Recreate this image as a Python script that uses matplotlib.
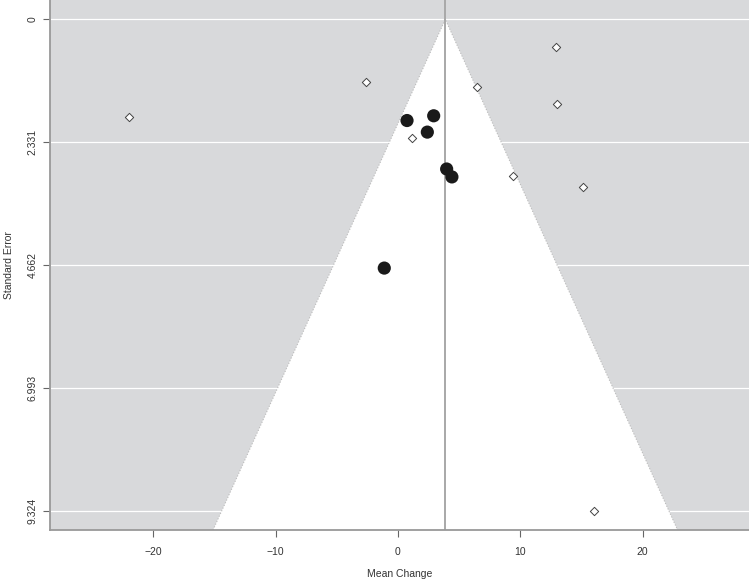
import numpy as np
import matplotlib
matplotlib.use("Agg")
import matplotlib.pyplot as plt

# observed studies (filled circles)
obs_change = [0.74, 2.92, 2.40, 3.98, 4.41, -1.12]
obs_se = [1.92, 1.83, 2.14, 2.84, 2.99, 4.72]

# other studies (open diamonds)
other_change = [-21.97, -2.64, 1.17, 6.49, 12.89, 13.00, 9.43, 15.15, 16.03]
other_se = [1.86, 1.18, 2.25, 1.29, 0.52, 1.61, 2.97, 3.19, 9.32]

estimate = 3.87
y_ticks = [0, 2.331, 4.662, 6.993, 9.324]
y_ticklabels = ["0", "2.331", "4.662", "6.993", "9.324"]
x_ticks = [-20, -10, 0, 10, 20]

plt.rcParams["font.family"] = ["Liberation Sans", "DejaVu Sans"]

fig = plt.figure(figsize=(7.49, 5.82), dpi=100)
ax = fig.add_axes([50 / 749, 52 / 582, 699 / 749, 530 / 582])

xlim = (-28.45, 28.7)
ylim = (9.69, -0.367)
ax.set_xlim(xlim)
ax.set_ylim(ylim)
ax.set_facecolor("#d8d9db")

# horizontal grid lines
for yt in y_ticks:
    ax.axhline(yt, color="white", linewidth=0.9, zorder=0.5)

# pseudo-confidence region (white funnel)
se_max = ylim[0]
funnel_x = [estimate - 1.96 * se_max, estimate, estimate + 1.96 * se_max]
funnel_y = [se_max, 0, se_max]
ax.fill(funnel_x, funnel_y, color="white", zorder=1, linewidth=0)
ax.plot(funnel_x, funnel_y, color="#bbbbbb", linestyle=":", linewidth=0.8, zorder=1.1)

ax.axvline(estimate, color="#a8a8a8", linewidth=1.4, zorder=2)

ax.scatter(other_change, other_se, marker="D", s=18, facecolor="white",
           edgecolor="#444444", linewidth=0.7, zorder=3)
ax.scatter(obs_change, obs_se, marker="o", s=90, color="#1a1a1a",
           edgecolor="none", zorder=4)

ax.set_xticks(x_ticks)
ax.set_xticklabels([str(t).replace("-", "\u2212") for t in x_ticks])
ax.set_yticks(y_ticks)
ax.set_yticklabels(y_ticklabels, rotation=90, va="center")

for s in ["top", "right"]:
    ax.spines[s].set_visible(False)
for s in ["left", "bottom"]:
    ax.spines[s].set_color("#999999")
    ax.spines[s].set_linewidth(1.3)

ax.tick_params(axis="both", colors="#666666", length=5, width=0.8,
               labelsize=7.5, labelcolor="#333333")
ax.tick_params(axis="x", pad=7)
ax.tick_params(axis="y", pad=4)

ax.set_xlabel("Mean Change", fontsize=7.5, color="#333333", labelpad=9)
ax.set_ylabel("Standard Error", fontsize=7.5, color="#333333", labelpad=10)

fig.savefig("out.png", dpi=100)
